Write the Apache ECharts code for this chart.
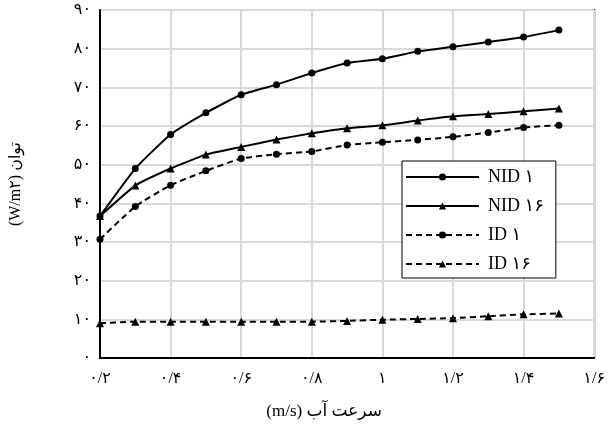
<!DOCTYPE html>
<html>
<head>
<meta charset="utf-8">
<script src="https://cdn.jsdelivr.net/npm/echarts@6/dist/echarts.min.js"></script>
<style>
  html, body { margin: 0; padding: 0; background: #fff; }
  #chart { width: 608px; height: 425px; }
</style>
</head>
<body>
<div id="chart"></div>
<script>
// water speed (m/s)
const speed = [0.2, 0.3, 0.4, 0.5, 0.6, 0.7, 0.8, 0.9, 1.0, 1.1, 1.2, 1.3, 1.4, 1.5];
// power (W/m2)
const nid1  = [36.7, 49.0, 57.8, 63.4, 68.1, 70.7, 73.7, 76.3, 77.4, 79.3, 80.5, 81.7, 83.0, 84.8];
const nid16 = [36.7, 44.6, 49.0, 52.6, 54.6, 56.5, 58.1, 59.4, 60.2, 61.4, 62.5, 63.1, 63.8, 64.5];
const id1   = [30.7, 39.2, 44.7, 48.4, 51.6, 52.7, 53.4, 55.1, 55.8, 56.4, 57.2, 58.3, 59.6, 60.2];
const id16  = [9.0, 9.4, 9.4, 9.4, 9.4, 9.4, 9.4, 9.6, 9.9, 10.1, 10.3, 10.8, 11.3, 11.5];

const xTickLabels = ['۰/۲', '۰/۴', '۰/۶', '۰/۸', '۱', '۱/۲', '۱/۴', '۱/۶'];
const yTickLabels = ['۰', '۱۰', '۲۰', '۳۰', '۴۰', '۵۰', '۶۰', '۷۰', '۸۰', '۹۰'];
const seriesNames = ['NID ۱', 'NID ۱۶', 'ID ۱', 'ID ۱۶'];

const font = "'Liberation Serif', 'DejaVu Sans', serif";

function pairs(ys) {
  return speed.map((x, i) => [x, ys[i]]);
}

function makeSeries(name, ys, symbol, dashed) {
  return {
    name: name,
    type: 'line',
    data: pairs(ys),
    smooth: 0.15,
    symbol: symbol,
    symbolSize: symbol === 'circle' ? 7 : 8,
    itemStyle: { color: '#000' },
    lineStyle: {
      color: '#000',
      width: 2,
      type: dashed ? [6, 4] : 'solid'
    },
    emphasis: { disabled: true }
  };
}

const myChart = echarts.init(document.getElementById('chart'));
const option = {
  animation: false,
  backgroundColor: '#fff',
  grid: {
    left: 100,
    right: 8,
    top: 10,
    bottom: 65,
    show: true,
    borderColor: '#000',
    borderWidth: 2,
    backgroundColor: 'transparent'
  },
  legend: {
    orient: 'vertical',
    left: 402,
    top: 161,
    padding: [7, 12, 5, 3],
    itemWidth: 73,
    itemHeight: 9,
    itemGap: 11,
    backgroundColor: '#fff',
    borderColor: '#000',
    borderWidth: 1,
    borderRadius: 0,
    selectedMode: false,
    data: seriesNames,
    textStyle: {
      fontFamily: font,
      fontSize: 18,
      color: '#000',
      lineHeight: 18,
      padding: [0, 0, 0, 4]
    }
  },
  xAxis: {
    type: 'value',
    min: 0.2,
    max: 1.6,
    interval: 0.2,
    name: '(m/s) سرعت آب',
    nameLocation: 'middle',
    nameGap: 45,
    nameTextStyle: {
      fontFamily: font,
      fontSize: 17,
      color: '#000',
      padding: [0, 46, 0, 0]
    },
    axisLine: { show: true, lineStyle: { color: '#000', width: 2 } },
    axisTick: { show: false },
    axisLabel: {
      margin: 13,
      fontFamily: font,
      fontSize: 16,
      color: '#000',
      formatter: function (v) {
        return xTickLabels[Math.round((v - 0.2) / 0.2)];
      }
    },
    splitLine: { show: true, lineStyle: { color: '#d9d9d9', width: 2 } }
  },
  yAxis: {
    type: 'value',
    min: 0,
    max: 90,
    interval: 10,
    name: '(W/m۲) توان',
    nameLocation: 'middle',
    nameGap: 76,
    nameRotate: 90,
    nameTextStyle: {
      fontFamily: font,
      fontSize: 16,
      color: '#000'
    },
    axisLine: { show: true, lineStyle: { color: '#000', width: 2 } },
    axisTick: { show: false },
    axisLabel: {
      margin: 9,
      fontFamily: font,
      fontSize: 16,
      color: '#000',
      formatter: function (v) {
        return yTickLabels[Math.round(v / 10)];
      }
    },
    splitLine: { show: true, lineStyle: { color: '#d9d9d9', width: 2 } }
  },
  series: [
    makeSeries(seriesNames[0], nid1, 'circle', false),
    makeSeries(seriesNames[1], nid16, 'triangle', false),
    makeSeries(seriesNames[2], id1, 'circle', true),
    makeSeries(seriesNames[3], id16, 'triangle', true)
  ]
};
myChart.setOption(option);
</script>
</body>
</html>
